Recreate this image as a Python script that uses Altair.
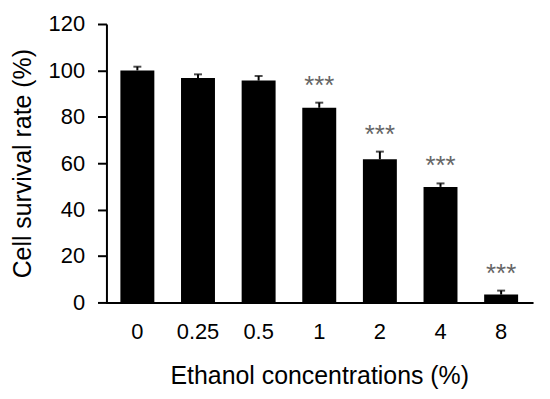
import altair as alt
import pandas as pd

categories = ["0", "0.25", "0.5", "1", "2", "4", "8"]
values = [100, 96.7, 95.6, 83.9, 61.7, 49.8, 3.4]
errors = [1.6, 1.6, 2.0, 2.2, 3.3, 1.5, 1.7]
marks = ["", "", "", "***", "***", "***", "***"]

df = pd.DataFrame({"conc": categories, "rate": values, "err": errors, "sig": marks})
df["top"] = df["rate"] + df["err"]

FONT = "Liberation Sans"
FS = 22
TFS = 25

x = alt.X("conc:N", sort=categories, title="Ethanol concentrations (%)",
          scale=alt.Scale(paddingInner=0.44, paddingOuter=0.23),
          axis=alt.Axis(labelAngle=0, ticks=False, labelPadding=19, labelFontSize=FS,
                        titleFontSize=TFS, titlePadding=22, labelFont=FONT, titleFont=FONT,
                        domainColor="black", domainWidth=2, labelColor="black",
                        titleColor="black", titleFontWeight="normal"))
y = alt.Y("rate:Q", title="Cell survival rate (%)",
          scale=alt.Scale(domain=[0, 120]),
          axis=alt.Axis(values=[0, 20, 40, 60, 80, 100, 120], tickSize=9, tickWidth=2,
                        tickColor="black", labelPadding=13, labelFontSize=FS,
                        titleFontSize=TFS, titlePadding=13, labelFont=FONT, titleFont=FONT,
                        domainColor="black", domainWidth=2, labelColor="black",
                        titleColor="black", grid=False, titleFontWeight="normal"))

base = alt.Chart(df)
bars = base.mark_bar(color="black").encode(x=x, y=y)
stems = base.mark_rule(color="black", strokeWidth=2).encode(
    x=alt.X("conc:N", sort=categories), y="rate:Q", y2="top:Q")
caps = base.mark_tick(color="black", thickness=2, size=8, orient="horizontal").encode(
    x=alt.X("conc:N", sort=categories), y="top:Q")
stars = base.mark_text(color="#666666", fontSize=26, font=FONT, dy=-17,
                       baseline="middle").encode(
    x=alt.X("conc:N", sort=categories), y="top:Q", text="sig:N")

chart = alt.layer(bars, stems, caps, stars).properties(
    width=428, height=280,
    autosize=alt.AutoSizeParams(type="none"),
    padding={"left": 99, "top": 15, "right": 10, "bottom": 94},
).configure_view(stroke=None).configure_axisX(domainCap="square")

chart.save("out.html", embed_options={"renderer": "svg", "actions": False})
